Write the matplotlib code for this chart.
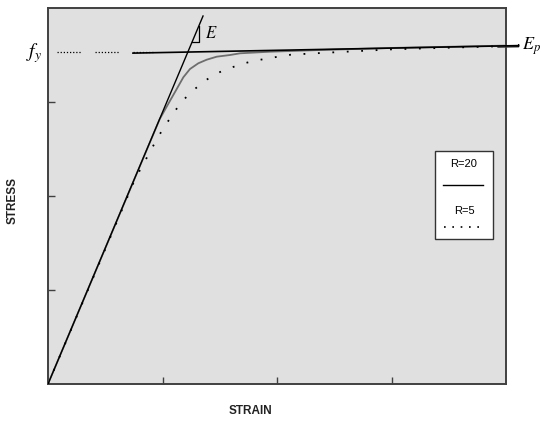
import matplotlib
matplotlib.use("Agg")
import matplotlib.pyplot as plt
from matplotlib.patches import Rectangle

# ── Data (strain / stress in plot units) ─────────────────────────────────────
elastic_strain = [0.0, 1.354]
elastic_stress = [0.0, 3.915]

hard_strain = [0.742, 4.11]          # post-yield line with slope Ep
hard_stress = [3.52, 3.60]

fy_level = 3.53
fy_dots = [(0.08, 0.30), (0.41, 0.63), (0.74, 0.92)]

r20_strain = [0.0, 0.976, 1.066, 1.124, 1.182, 1.240, 1.313, 1.386, 1.473,
              1.590, 1.677, 1.939, 2.376, 3.0, 4.0]
r20_stress = [0.0, 2.819, 3.014, 3.138, 3.263, 3.351, 3.412, 3.450, 3.482,
              3.500, 3.518, 3.535, 3.553, 3.575, 3.600]

r5_strain = [0.0, 0.76, 0.885, 0.943, 1.007, 1.086, 1.162, 1.264, 1.371,
             1.482, 1.583, 1.691, 1.793, 1.953, 2.120, 2.332, 3.0, 4.0]
r5_stress = [0.0, 2.18, 2.457, 2.588, 2.720, 2.862, 2.997, 3.120, 3.227,
             3.309, 3.358, 3.404, 3.436, 3.471, 3.503, 3.518, 3.56, 3.595]

# slope triangle for E
tri_strain = [1.26, 1.32, 1.32]
tri_stress = [3.64, 3.64, 3.81]

x_ticks = [1, 2, 3]
y_ticks = [1, 2, 3]
legend_labels = ["R=20", "R=5"]

# ── Style ────────────────────────────────────────────────────────────────────
plt.rcParams["mathtext.fontset"] = "stix"
BG = "#e0e0e0"
SPINE = "#404040"

fig = plt.figure(figsize=(5.42, 4.27), dpi=100, facecolor="white")
ax = fig.add_axes([48 / 542, 1 - 385 / 427, 458 / 542, 376 / 427])
ax.set_facecolor(BG)
ax.set_xlim(0, 4)
ax.set_ylim(0, 4)

for sp in ax.spines.values():
    sp.set_color(SPINE)
    sp.set_linewidth(1.4)

ax.set_xticks(x_ticks)
ax.set_yticks(y_ticks)
ax.set_xticklabels([])
ax.set_yticklabels([])
ax.tick_params(direction="in", length=5, width=1, color=SPINE)

# ── Curves ───────────────────────────────────────────────────────────────────
ax.plot(elastic_strain, elastic_stress, color="black", lw=1.0, zorder=4)
ax.plot(hard_strain, hard_stress, color="black", lw=1.2, clip_on=False, zorder=4)
ax.plot(r20_strain, r20_stress, color="#6e6e6e", lw=1.3, zorder=3)
ax.plot(r5_strain, r5_stress, color="black", lw=1.3,
        linestyle=(0, (1, 7)), zorder=3)

for x0, x1 in fy_dots:
    ax.plot([x0, x1], [fy_level, fy_level], color="black", lw=0.9,
            linestyle=(0, (1, 1.5)), zorder=4)

ax.plot(tri_strain, tri_stress, color="black", lw=0.9, zorder=4)

# small end mark of the Ep line outside the axes
ax.plot([3.93, 4.11, 4.11], [3.585, 3.588, 3.61], color="black", lw=0.9,
        clip_on=False)

# ── Annotations ──────────────────────────────────────────────────────────────
ax.text(1.37, 3.74, "$E$", fontsize=12, va="center", ha="left")
ax.text(-0.05, fy_level, "$f_y$", fontsize=14, va="center", ha="right")
ax.text(4.14, 3.60, "$E_p$", fontsize=13, va="center", ha="left",
        clip_on=False)

fig.text(250 / 542, 1 - 411 / 427, "STRAIN", fontsize=8.5, fontweight="bold",
         family="Liberation Sans", ha="center", va="center", color="#222222")
fig.text(13 / 542, 1 - 200 / 427, "STRESS", fontsize=8.5, fontweight="bold",
         family="Liberation Sans", ha="center", va="center", rotation=90,
         color="#222222")

# ── Hand-made legend ─────────────────────────────────────────────────────────
lx0, lx1 = (435 - 48) / 458, (493 - 48) / 458
ly0, ly1 = (385 - 240) / 376, (385 - 152) / 376
ax.add_patch(Rectangle((lx0, ly0), lx1 - lx0, ly1 - ly0, transform=ax.transAxes,
                       facecolor="white", edgecolor="#333333", lw=1.0, zorder=5))
cx = (lx0 + lx1) / 2
ax.text(cx, (385 - 164) / 376, legend_labels[0], transform=ax.transAxes,
        fontsize=8, family="Liberation Sans", ha="center", va="center", zorder=6)
ax.plot([(443 - 48) / 458, (483 - 48) / 458], [(385 - 186) / 376] * 2,
        transform=ax.transAxes, color="black", lw=1.0, zorder=6)
ax.text(cx, (385 - 211) / 376, legend_labels[1], transform=ax.transAxes,
        fontsize=8, family="Liberation Sans", ha="center", va="center", zorder=6)
ax.plot([(444 - 48) / 458, (484 - 48) / 458], [(385 - 228) / 376] * 2,
        transform=ax.transAxes, color="black", lw=1.2,
        linestyle=(0, (1, 4)), zorder=6)

fig.savefig("out.png", dpi=100, facecolor="white")
